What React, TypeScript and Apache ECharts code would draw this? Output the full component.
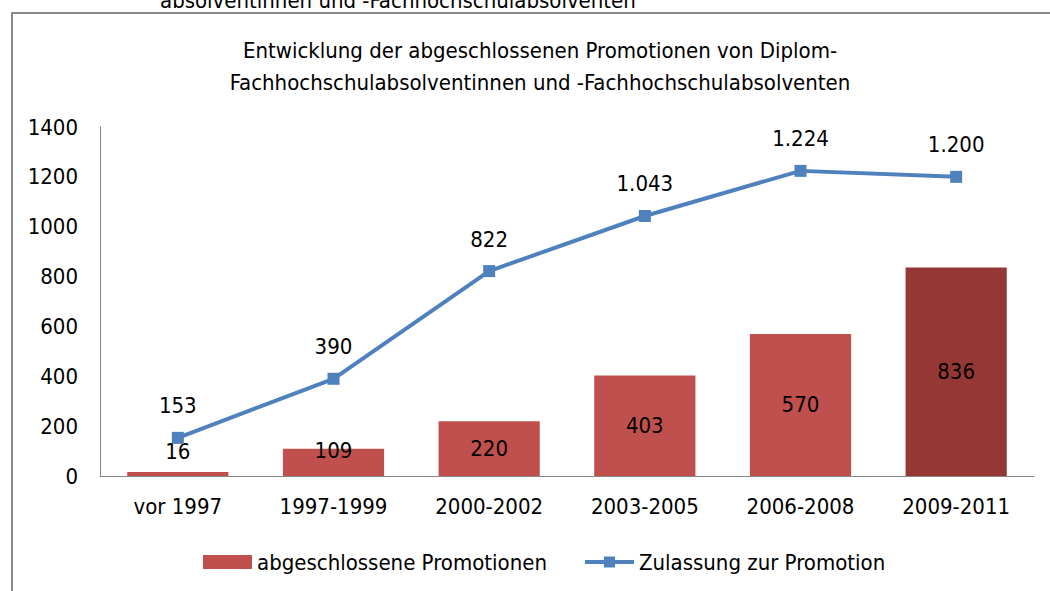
import React, { useEffect, useRef } from "react";
import * as echarts from "echarts";

const categories = ["vor 1997", "1997-1999", "2000-2002", "2003-2005", "2006-2008", "2009-2011"];
const completed = [16, 109, 220, 403, 570, 836];
const admissions = [153, 390, 822, 1043, 1224, 1200];
const titleLines = [
  "Entwicklung der abgeschlossenen Promotionen von Diplom-",
  "Fachhochschulabsolventinnen und -Fachhochschulabsolventen",
];
const cutText = "absolventinnen und -Fachhochschulabsolventen";
const seriesNames = ["abgeschlossene Promotionen", "Zulassung zur Promotion"];

const FONT = "'DejaVu Sans Condensed', 'Liberation Sans Narrow', sans-serif";
const fmt = (v: number) => String(v).replace(/\B(?=(\d{3})+(?!\d))/g, ".");

export default function App() {
  const ref = useRef<HTMLDivElement>(null);
  useEffect(() => {
    const chart = echarts.init(ref.current!, null, { renderer: "svg" });
    const barColors = ["#C0504D", "#C0504D", "#C0504D", "#C0504D", "#C0504D", "#953735"];
    const barOffsets: Record<number, number> = { 0: -23, 1: -12 };
    chart.setOption({
      animation: false,
      textStyle: { fontFamily: FONT },
      graphic: [
        {
          type: "rect",
          shape: { x: 12, y: 13, width: 1200, height: 800 },
          style: { fill: "none", stroke: "#8A8A8A", lineWidth: 2 },
        },
        {
          type: "text",
          x: 160,
          y: 11,
          style: { text: cutText, font: `22px ${FONT}`, fill: "#000", verticalAlign: "bottom" },
        },
        {
          type: "text",
          x: 540,
          y: 66,
          style: {
            text: titleLines.join("\n"),
            font: `22px ${FONT}`,
            fill: "#000",
            align: "center",
            verticalAlign: "middle",
            lineHeight: 32,
          },
        },
      ],
      grid: { left: 100, right: 16, top: 127, bottom: 115, containLabel: false },
      legend: {
        left: 198,
        top: 546,
        itemWidth: 49,
        itemHeight: 14,
        itemGap: 36,
        textStyle: { fontSize: 22, color: "#000", fontFamily: FONT },
        data: [
          { name: seriesNames[0], icon: "rect" },
          { name: seriesNames[1], lineStyle: { width: 4 } },
        ],
      },
      xAxis: {
        type: "category",
        data: categories,
        axisLine: { lineStyle: { color: "#868686", width: 1 } },
        axisTick: { show: false },
        axisLabel: { fontSize: 22, color: "#000", margin: 19, fontFamily: FONT },
      },
      yAxis: {
        type: "value",
        min: 0,
        max: 1400,
        interval: 200,
        splitLine: { show: false },
        axisLine: { show: true, lineStyle: { color: "#868686", width: 1 } },
        axisTick: { show: false },
        axisLabel: {
          fontSize: 22,
          color: "#000",
          margin: 22,
          fontFamily: FONT,
          formatter: (v: number) => String(v),
        },
      },
      series: [
        {
          name: seriesNames[0],
          type: "bar",
          barWidth: "65%",
          itemStyle: { color: "#C0504D" },
          data: completed.map((v, i) => ({
            value: v,
            itemStyle: { color: barColors[i] },
            label: barOffsets[i] !== undefined ? { offset: [0, barOffsets[i]] } : undefined,
          })),
          label: {
            show: true,
            position: "inside",
            fontSize: 22,
            color: "#000",
            fontFamily: FONT,
            formatter: (p: any) => fmt(p.value),
          },
        },
        {
          name: seriesNames[1],
          type: "line",
          data: admissions,
          symbol: "rect",
          symbolSize: 12,
          lineStyle: { color: "#4F81BD", width: 4 },
          itemStyle: { color: "#4F81BD" },
          label: {
            show: true,
            position: "top",
            distance: 15,
            fontSize: 22,
            color: "#000",
            fontFamily: FONT,
            formatter: (p: any) => fmt(p.value),
          },
        },
      ],
    });
    return () => chart.dispose();
  }, []);
  return (
    <div
      ref={ref}
      style={{ position: "fixed", left: 0, top: 0, width: 1050, height: 591, background: "#fff" }}
    />
  );
}
